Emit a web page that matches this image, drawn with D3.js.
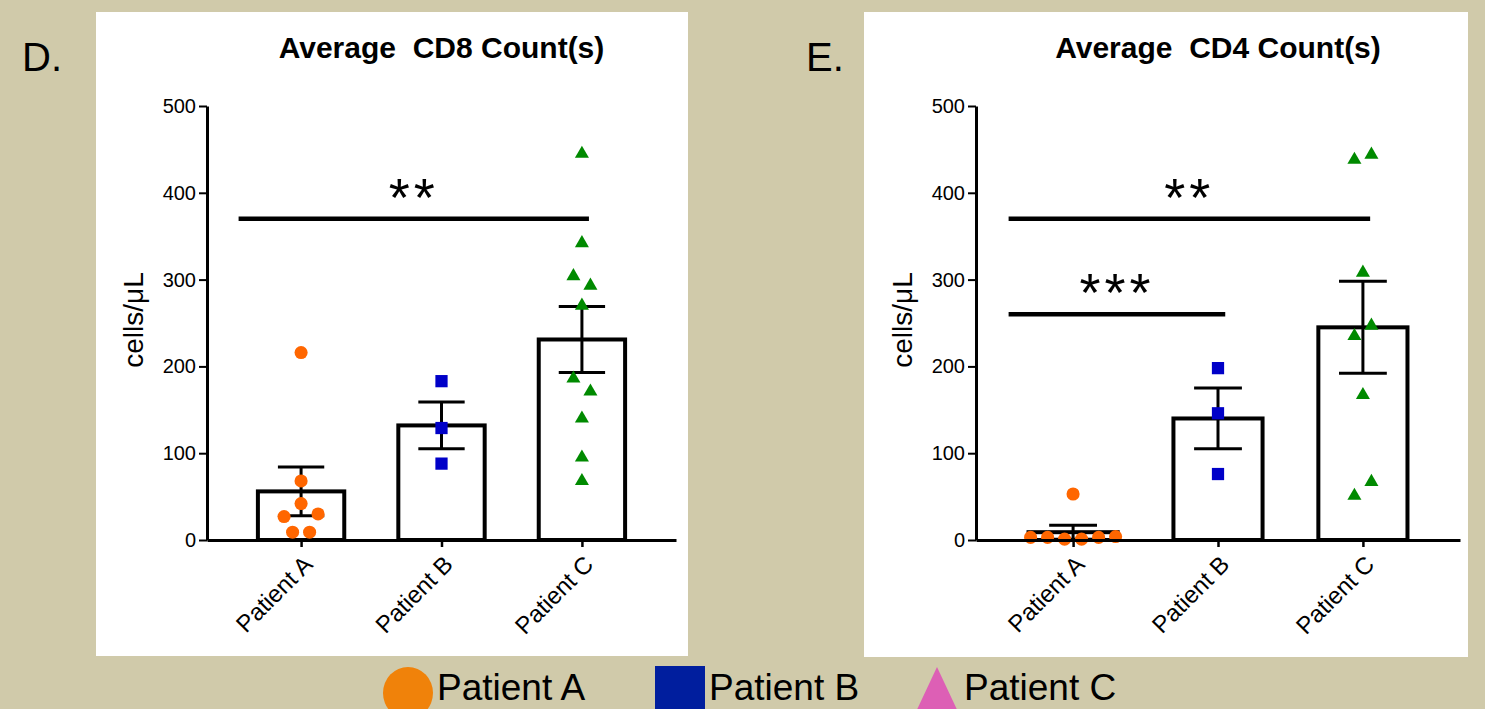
<!DOCTYPE html>
<html>
<head>
<meta charset="utf-8">
<script src="https://cdn.jsdelivr.net/npm/d3@7"></script>
<style>
  body { margin: 0; background: #d0caaa; }
  svg { display: block; }
  text { font-family: "Liberation Sans", Arial, sans-serif; fill: #000; }
</style>
</head>
<body>
<div id="chart"></div>
<script>
// categories and y ticks (same for both panels)
var categories = ["Patient A", "Patient B", "Patient C"];
var yTicks = [0, 100, 200, 300, 400, 500];

// D. average CD8 counts
var cd8Means = [56, 132, 231];
var cd8Sem = [28, 27, 38];
var cd8PatientA = [216, 68, 27, 42, 30, 9, 9];
var cd8PatientB = [183, 129, 88];
var cd8PatientC = [445, 342, 304, 293, 270, 186, 171, 140, 95, 68];
var cd8Sig = [["Patient A", "Patient C", 370, "**"]];

// E. average CD4 counts
var cd4Means = [9, 140, 245];
var cd4Sem = [8, 35, 53];
var cd4PatientA = [53, 3, 3, 1, 1, 3, 4];
var cd4PatientB = [198, 146, 76];
var cd4PatientC = [438, 444, 308, 235, 247, 167, 51, 67];
var cd4Sig = [["Patient A", "Patient C", 370, "**"], ["Patient A", "Patient B", 260, "***"]];

var pointColors = ["#ff6600", "#0000c8", "#008a00"];
var legendColors = ["#f0820a", "#001e9e", "#dd5fb5"];
var shapes = [d3.symbolCircle, d3.symbolSquare, d3.symbolTriangle];
var shapeSizes = [135, 150, 85];

var W = 1485, H = 709;
var svg = d3.select("#chart").append("svg")
  .attr("width", W)
  .attr("height", H);

svg.append("rect").attr("width", W).attr("height", H).attr("fill", "#d0caaa");

// spread points that would overlap, like Prism does
function spread(vals, y, spacing, thresh) {
  var idx = d3.range(vals.length).sort(function(a, b) { return vals[a] - vals[b]; });
  var groups = [], cur = [];
  idx.forEach(function(i) {
    if (cur.length && Math.abs(y(vals[i]) - y(vals[cur[cur.length - 1]])) >= thresh) {
      groups.push(cur); cur = [];
    }
    cur.push(i);
  });
  if (cur.length) groups.push(cur);
  var off = vals.map(function() { return 0; });
  groups.forEach(function(g) {
    g.sort(function(a, b) { return a - b; });
    g.forEach(function(i, k) { off[i] = (k - (g.length - 1) / 2) * spacing; });
  });
  return off;
}

function drawChart(cfg) {
  var panel = svg.append("g");
  panel.append("rect")
    .attr("x", cfg.panel[0]).attr("y", cfg.panel[1])
    .attr("width", cfg.panel[2]).attr("height", cfg.panel[3])
    .attr("fill", "#fff");

  svg.append("text")
    .attr("x", cfg.letterX).attr("y", 71)
    .style("font-size", "40px")
    .text(cfg.letter);

  var clipId = "clip" + cfg.letter.replace(".", "");
  svg.append("clipPath").attr("id", clipId)
    .append("rect")
    .attr("x", cfg.panel[0]).attr("y", cfg.panel[1])
    .attr("width", cfg.panel[2]).attr("height", cfg.panel[3]);

  var g = svg.append("g").attr("clip-path", "url(#" + clipId + ")");

  var x = d3.scalePoint().domain(categories).range([cfg.x0, cfg.x1]).padding(0.67);
  var y = d3.scaleLinear().domain([0, 500]).range([540, 106]);
  var step = x.step();
  var bw = step * 0.615;
  var cap = step * 0.165;

  g.append("text")
    .attr("x", (cfg.x0 + cfg.x1) / 2).attr("y", 58)
    .attr("text-anchor", "middle")
    .style("font-size", "30px").style("font-weight", "bold")
    .style("white-space", "pre")
    .text(cfg.title);

  // bars
  g.selectAll(".bar").data(cfg.means).enter().append("rect")
    .attr("x", function(d, i) { return x(categories[i]) - bw / 2; })
    .attr("y", function(d) { return y(d); })
    .attr("width", bw)
    .attr("height", function(d) { return y(0) - y(d); })
    .attr("fill", "#fff")
    .attr("stroke", "#000")
    .attr("stroke-width", 4);

  // error bars
  cfg.means.forEach(function(m, i) {
    var cx = x(categories[i]), s = cfg.sem[i];
    g.append("line")
      .attr("x1", cx).attr("x2", cx)
      .attr("y1", y(m - s)).attr("y2", y(m + s))
      .attr("stroke", "#000").attr("stroke-width", 3);
    [m - s, m + s].forEach(function(v) {
      g.append("line")
        .attr("x1", cx - cap).attr("x2", cx + cap)
        .attr("y1", y(v)).attr("y2", y(v))
        .attr("stroke", "#000").attr("stroke-width", 3);
    });
  });

  // points
  cfg.points.forEach(function(vals, i) {
    var off = spread(vals, y, 17, 15);
    g.selectAll(".pt" + i).data(vals).enter().append("path")
      .attr("d", d3.symbol().type(shapes[i]).size(shapeSizes[i]))
      .attr("transform", function(d, k) {
        return "translate(" + (x(categories[i]) + off[k]) + "," + y(d) + ")";
      })
      .attr("fill", pointColors[i]);
  });

  // y axis
  var yAxis = g.append("g")
    .attr("transform", "translate(" + cfg.x0 + ",0)")
    .call(d3.axisLeft(y).tickValues(yTicks).tickSize(8).tickSizeOuter(0).tickPadding(3));
  yAxis.select(".domain").attr("stroke-width", 3);
  yAxis.selectAll(".tick line").attr("stroke-width", 2);
  yAxis.selectAll("text").style("font-size", "20px").style("font-family", "Liberation Sans, Arial, sans-serif");

  // x axis
  var xAxis = g.append("g")
    .attr("transform", "translate(0," + y(0) + ")")
    .call(d3.axisBottom(x).tickSize(7).tickSizeOuter(0).tickFormat(""));
  xAxis.select(".domain").attr("stroke-width", 3);
  xAxis.selectAll(".tick line").attr("stroke-width", 2.5);

  g.selectAll(".xlab").data(categories).enter().append("text")
    .attr("transform", function(d) { return "translate(" + (x(d) + 7) + "," + (y(0) + 20) + ") rotate(-45)"; })
    .attr("text-anchor", "end")
    .attr("dy", "0.35em")
    .style("font-size", "24px")
    .text(function(d) { return d; });

  g.append("text")
    .attr("transform", "translate(" + (cfg.x0 - 64) + ",320) rotate(-90)")
    .attr("text-anchor", "middle")
    .style("font-size", "28px")
    .text("cells/\u03bcL");

  // significance bars
  cfg.sig.forEach(function(s) {
    var xa = x(s[0]) - step * 0.445, xb = x(s[1]) + step * 0.05, yy = y(s[2]);
    g.append("line")
      .attr("x1", xa).attr("x2", xb)
      .attr("y1", yy).attr("y2", yy)
      .attr("stroke", "#000").attr("stroke-width", 4.5);
    g.append("text")
      .attr("x", (xa + xb) / 2).attr("y", yy - 3)
      .attr("text-anchor", "middle")
      .style("font-size", "54px")
      .style("letter-spacing", "4px")
      .text(s[3]);
  });
}

drawChart({
  panel: [96, 12, 592, 644], letter: "D.", letterX: 22,
  x0: 207, x1: 676, title: "Average  CD8 Count(s)",
  means: cd8Means, sem: cd8Sem,
  points: [cd8PatientA, cd8PatientB, cd8PatientC], sig: cd8Sig
});

drawChart({
  panel: [864, 12, 604, 645], letter: "E.", letterX: 806,
  x0: 976, x1: 1460, title: "Average  CD4 Count(s)",
  means: cd4Means, sem: cd4Sem,
  points: [cd4PatientA, cd4PatientB, cd4PatientC], sig: cd4Sig
});

// legend along the bottom
var legendX = [383, 655, 914];
var legend = svg.append("g");
categories.forEach(function(c, i) {
  var lx = legendX[i];
  if (i === 0) {
    legend.append("ellipse").attr("cx", lx + 25).attr("cy", 693).attr("rx", 25).attr("ry", 26)
      .attr("fill", legendColors[i]);
  } else if (i === 1) {
    legend.append("rect").attr("x", lx).attr("y", 666).attr("width", 50).attr("height", 50)
      .attr("fill", legendColors[i]);
  } else {
    legend.append("path")
      .attr("d", "M" + (lx + 23) + ",667L" + (lx + 46) + ",716L" + lx + ",716Z")
      .attr("fill", legendColors[i]);
  }
  legend.append("text")
    .attr("x", lx + (i === 2 ? 50 : 54)).attr("y", 700)
    .style("font-size", "37px")
    .text(c);
});
</script>
</body>
</html>
